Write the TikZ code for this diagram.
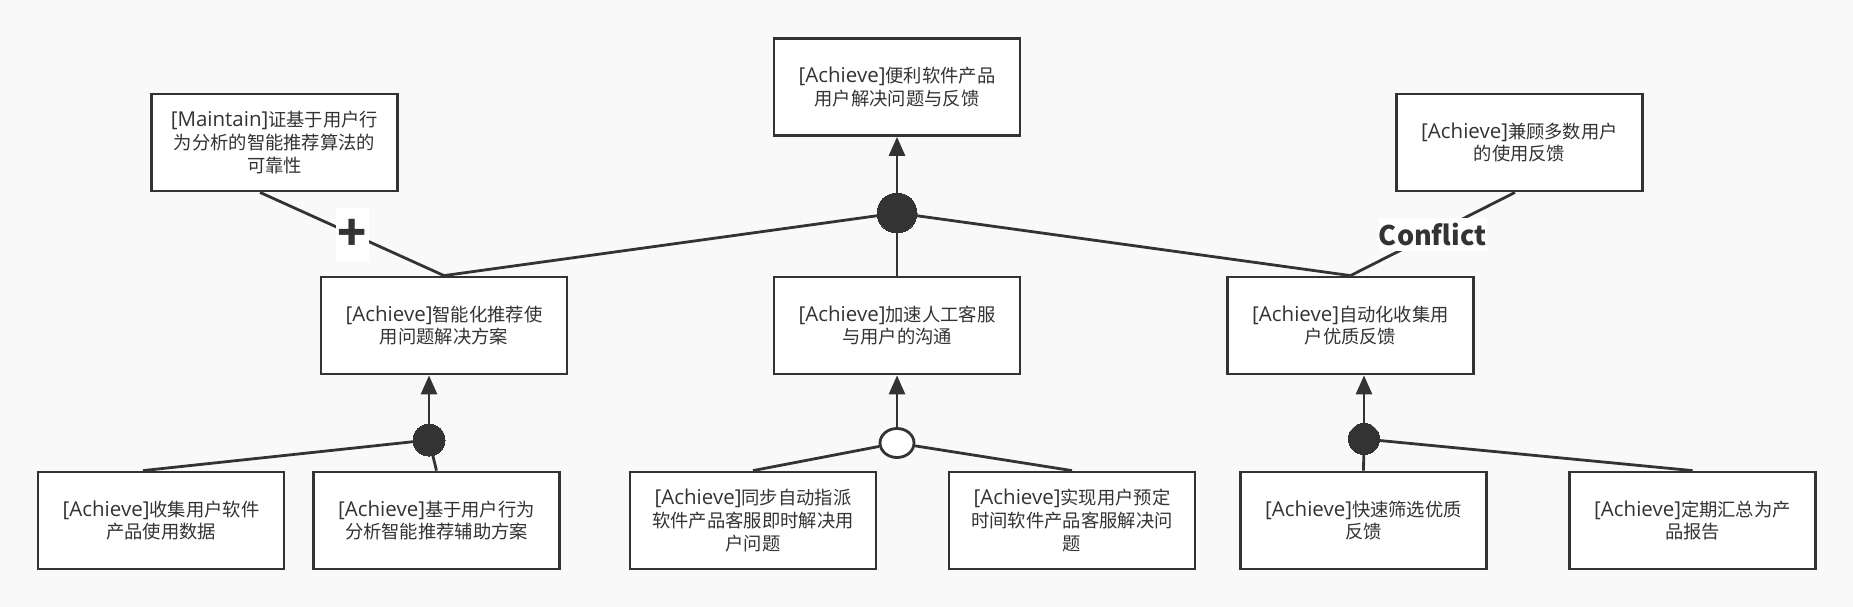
\documentclass[tikz,border=0pt]{standalone}
\usepackage{fontspec}
\setmainfont{Noto Sans CJK SC}
\newfontfamily\latf{Open Sans}[Scale=1.12]
\newcommand\ach{{\latf[Achieve]}}
\newcommand\mnt{{\latf[Maintain]}}
\usetikzlibrary{arrows.meta,shapes.geometric}
\definecolor{bg}{HTML}{F9F9F9}
\definecolor{ink}{HTML}{333333}
\begin{document}
\begin{tikzpicture}[x=1pt,y=-1pt,
  goal/.style={draw=ink, line width=2.8pt, fill=white, minimum width=246pt, minimum height=97pt,
    inner sep=0pt, align=center, text=ink, font=\fontsize{18.3}{22.7}\selectfont},
  andnode/.style={circle, fill=ink, draw=ink, line width=0pt, inner sep=0pt, minimum size=#1},
  ornode/.style={ellipse, fill=white, draw=ink, line width=2.8pt, inner sep=0pt, minimum width=34pt, minimum height=29pt},
  link/.style={draw=ink, line width=2.8pt},
  arr/.style={link, -{Triangle[length=19pt,width=16pt]}},
  lbl/.style={fill=white, text=ink, inner sep=0pt, font=\bfseries\fontsize{#1}{#1}\selectfont}
]
\path[fill=bg] (0,0) rectangle (1853,607);

\node[goal] (T) at (897,87) {\ach 便利软件产品\\用户解决问题与反馈};
\node[goal] (M1) at (274.5,142.5) {\mnt 证基于用户行\\为分析的智能推荐算法的\\可靠性};
\node[goal] (R1) at (1519.5,142.5) {\ach 兼顾多数用户\\的使用反馈};
\node[goal] (A1) at (444,325.5) {\ach 智能化推荐使\\用问题解决方案};
\node[goal] (A2) at (897,325.5) {\ach 加速人工客服\\与用户的沟通};
\node[goal] (A3) at (1350.5,325.5) {\ach 自动化收集用\\户优质反馈};
\node[goal] (B1) at (161,520.5) {\ach 收集用户软件\\产品使用数据};
\node[goal] (B2) at (436.5,520.5) {\ach 基于用户行为\\分析智能推荐辅助方案};
\node[goal] (B3) at (753,520.5) {\ach 同步自动指派\\软件产品客服即时解决用\\户问题};
\node[goal] (B4) at (1072,520.5) {\ach 实现用户预定\\时间软件产品客服解决问\\题};
\node[goal] (B5) at (1363.5,520.5) {\ach 快速筛选优质\\反馈};
\node[goal] (B6) at (1692.5,520.5) {\ach 定期汇总为产\\品报告};

\node[andnode=40pt] (C0) at (897,213) {};
\node[andnode=32pt] (C1) at (429,440) {};
\node[ornode] (C2) at (897,443) {};
\node[andnode=31pt] (C3) at (1364,439) {};

% top level
\draw[arr] (C0) -- (T.south);
\draw[link] (A1.north) -- (C0);
\draw[link] (A2.north) -- (C0);
\draw[link] (A3.north) -- (C0);

% contribution links
\draw[link] ([xshift=-14.5pt]M1.south) -- node[lbl=48, minimum width=33pt, minimum height=53pt, text height=33pt, text depth=0pt] (plus) {+} (A1.north);
\draw[link] ([xshift=-4.5pt]R1.south) -- node[lbl=27, minimum width=105pt, minimum height=33pt] (conf) {Conflict} (A3.north);

% left refinement
\draw[arr] (C1) -- (C1 |- A1.south);
\draw[link] ([xshift=-18pt]B1.north) -- (C1);
\draw[link] (B2.north) -- (C1);

% center refinement
\draw[arr] (C2) -- (A2.south);
\draw[link] (B3.north) -- (C2);
\draw[link] (B4.north) -- (C2);

% right refinement
\draw[arr] (C3) -- (C3 |- A3.south);
\draw[link] (B5.north) -- (C3);
\draw[link] (B6.north) -- (C3);
\end{tikzpicture}
\end{document}
